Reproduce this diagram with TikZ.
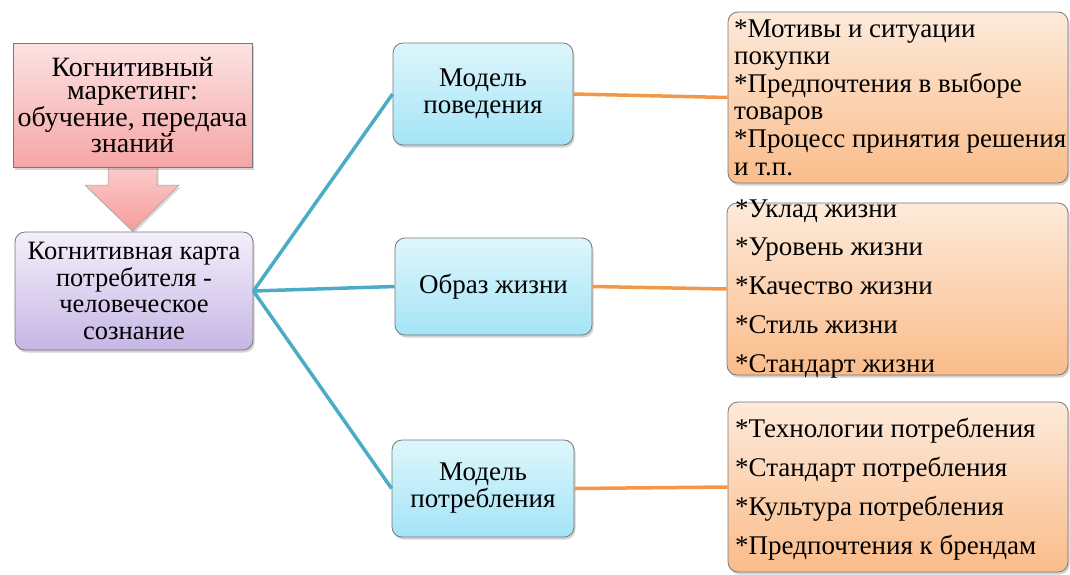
\documentclass[tikz,border=0pt]{standalone}
\usepackage{fontspec}
\setmainfont{Liberation Serif}
\newfontfamily\tnr{Liberation Serif}
\usetikzlibrary{shadows}
\definecolor{pinkT}{RGB}{252,226,226}
\definecolor{pinkB}{RGB}{245,166,166}
\definecolor{arrT}{RGB}{251,208,208}
\definecolor{arrB}{RGB}{247,156,156}
\definecolor{purT}{RGB}{244,239,250}
\definecolor{purB}{RGB}{198,182,228}
\definecolor{bluT}{RGB}{222,246,252}
\definecolor{bluB}{RGB}{164,228,247}
\definecolor{orT}{RGB}{253,234,218}
\definecolor{orB}{RGB}{250,188,138}
\definecolor{teal}{RGB}{75,172,198}
\definecolor{orline}{RGB}{247,150,70}
\definecolor{edge}{RGB}{120,120,120}
\begin{document}
\begin{tikzpicture}[x=1pt,y=-1pt,
  box/.style={draw=edge,line width=0.8pt,rounded corners=10pt,inner sep=0pt,align=center,
    drop shadow={shadow xshift=1.5pt,shadow yshift=-2.5pt,opacity=0.35}},
  pinkbox/.style={box,rounded corners=0pt,top color=pinkT,bottom color=pinkB},
  purbox/.style={box,top color=purT,bottom color=purB},
  blubox/.style={box,top color=bluT,bottom color=bluB},
  orbox/.style={box,top color=orT,bottom color=orB},
  tealline/.style={draw=teal,line width=3.5pt},
  orangeline/.style={draw=orline,line width=3.5pt},
  listtext/.style={anchor=base west,align=left,inner sep=0pt},
]
\useasboundingbox (0,0) rectangle (1070,574);

% down arrow (drawn first, pink box covers its top)
\path[top color=arrT,bottom color=arrB,draw=edge!70,line width=0.5pt,
  drop shadow={shadow xshift=1.5pt,shadow yshift=-2.5pt,opacity=0.3}]
  (108,160) -- (157,160) -- (157,185) -- (179,185) -- (132.5,231) -- (85,185) -- (108,185) -- cycle;

% boxes
\node[pinkbox,minimum width=239pt,minimum height=124pt,
  font=\tnr\fontsize{28}{23}\selectfont] (pink) at (132.5,105)
  {Когнитивный\\маркетинг:\\обучение, передача\\знаний};
\node[purbox,minimum width=238pt,minimum height=118pt,
  font=\tnr\fontsize{26.5}{26.5}\selectfont] (pur) at (134,291)
  {Когнитивная карта\\потребителя -\\человеческое\\сознание};

\node[blubox,minimum width=180pt,minimum height=102pt,
  font=\tnr\fontsize{27}{27}\selectfont] (b1) at (483,94) {Модель\\поведения};
\node[blubox,minimum width=197pt,minimum height=97pt,
  font=\tnr\fontsize{27}{27}\selectfont] (b2) at (493.5,286.5) {Образ жизни};
\node[blubox,minimum width=182pt,minimum height=97pt,
  font=\tnr\fontsize{27}{27}\selectfont] (b3) at (483,488.5) {Модель\\потребления};

\node[orbox,minimum width=340pt,minimum height=171pt] (oa) at (898,97.5) {};
\node[orbox,minimum width=341pt,minimum height=172pt] (ob) at (897.5,289) {};
\node[orbox,minimum width=340pt,minimum height=170pt] (oc) at (898,487) {};

\node[listtext,font=\tnr\fontsize{27}{27.6}\selectfont] (oatext) at (734,175)
  {*Мотивы и ситуации\\покупки\\*Предпочтения в выборе\\товаров\\*Процесс принятия решения\\и т.п.};
\node[listtext,font=\tnr\fontsize{27}{38.7}\selectfont] (obtext) at (735,372)
  {*Уклад жизни\\*Уровень жизни\\*Качество жизни\\*Стиль жизни\\*Стандарт жизни};
\node[listtext,font=\tnr\fontsize{27}{38.7}\selectfont] (octext) at (735,554)
  {*Технологии потребления\\*Стандарт потребления\\*Культура потребления\\*Предпочтения к брендам};

% connectors
\draw[tealline] (pur.east) -- (b1.west);
\draw[tealline] (pur.east) -- (b2.west);
\draw[tealline] (pur.east) -- (b3.west);
\draw[orangeline] (b1.east) -- (oa.west);
\draw[orangeline] (b2.east) -- (ob.west);
\draw[orangeline] (b3.east) -- (oc.west);
\end{tikzpicture}
\end{document}
